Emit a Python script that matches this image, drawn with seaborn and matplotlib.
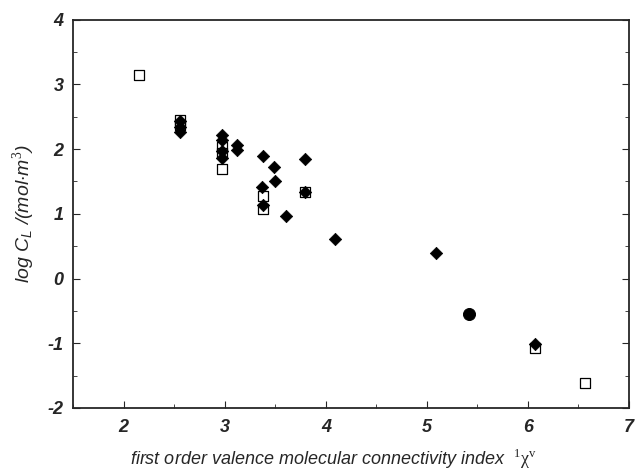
import matplotlib
matplotlib.use("Agg")
import matplotlib.pyplot as plt
import numpy as np
import pandas as pd
import seaborn as sns
from matplotlib.ticker import MultipleLocator

# open squares
sq_x = [2.15, 2.56, 2.56, 2.97, 2.97, 2.97, 3.38, 3.38, 3.79, 6.07, 6.56]
sq_y = [3.14, 2.45, 2.38, 2.04, 1.94, 1.70, 1.27, 1.08, 1.34, -1.07, -1.61]
# filled diamonds
dm_x = [2.56, 2.56, 2.56, 2.97, 2.97, 2.97, 2.97, 3.12, 3.12, 3.38, 3.49,
        3.79, 3.50, 3.37, 3.38, 3.79, 3.61, 4.09, 5.09, 6.07]
dm_y = [2.44, 2.34, 2.26, 2.22, 2.14, 1.97, 1.86, 2.06, 1.99, 1.90, 1.73,
        1.85, 1.51, 1.42, 1.14, 1.34, 0.97, 0.61, 0.40, -1.01]
# filled circle
ci_x = [5.42]
ci_y = [-0.55]

sns.set_style("ticks")
plt.rcParams["font.family"] = ["Liberation Sans", "DejaVu Sans"]
plt.rcParams["mathtext.fontset"] = "custom"
plt.rcParams["mathtext.it"] = "Liberation Sans:italic"
plt.rcParams["mathtext.rm"] = "Liberation Serif"
plt.rcParams["axes.unicode_minus"] = False

sq = pd.DataFrame({"x": sq_x, "y": sq_y})
dm = pd.DataFrame({"x": dm_x, "y": dm_y})
ci = pd.DataFrame({"x": ci_x, "y": ci_y})

fig = plt.figure(figsize=(6.36, 4.71), dpi=100)
ax = fig.add_axes([0.115, 0.134, 0.874, 0.824])

sns.scatterplot(data=sq, x="x", y="y", marker="s", s=58, facecolor="white",
                edgecolor="black", linewidth=0.9, ax=ax, zorder=2)
sns.scatterplot(data=dm, x="x", y="y", marker="D", s=40, color="black",
                edgecolor="black", linewidth=0.5, ax=ax, zorder=3)
sns.scatterplot(data=ci, x="x", y="y", marker="o", s=75, color="black",
                edgecolor="black", ax=ax, zorder=3)

ax.set_xlim(1.5, 7)
ax.set_ylim(-2, 4)
ax.xaxis.set_major_locator(MultipleLocator(1))
ax.xaxis.set_minor_locator(MultipleLocator(0.5))
ax.yaxis.set_major_locator(MultipleLocator(1))
ax.yaxis.set_minor_locator(MultipleLocator(0.5))
ax.tick_params(which="both", direction="in", right=True, top=False)
ax.tick_params(which="major", length=5, width=0.8, labelsize=13)
ax.tick_params(axis="x", which="major", pad=8)
ax.tick_params(axis="y", which="major", pad=7)
ax.tick_params(which="minor", length=3, width=0.6)
for lab in ax.get_xticklabels() + ax.get_yticklabels():
    lab.set_fontstyle("italic")
    lab.set_fontweight("bold")
for sp in ax.spines.values():
    sp.set_linewidth(1.3)

ax.set_xlabel(r"first order valence molecular connectivity index  $^{1}\mathrm{\chi}^{\mathrm{v}}$",
              fontsize=13, fontstyle="italic")
ax.xaxis.set_label_coords(0.468, -0.1)
ax.set_ylabel(r"log $C_{L}$ /(mol$\cdot$m$^{\mathit{3}}$)", fontsize=14,
              fontstyle="italic", labelpad=8)

fig.savefig("out.png", dpi=100)
